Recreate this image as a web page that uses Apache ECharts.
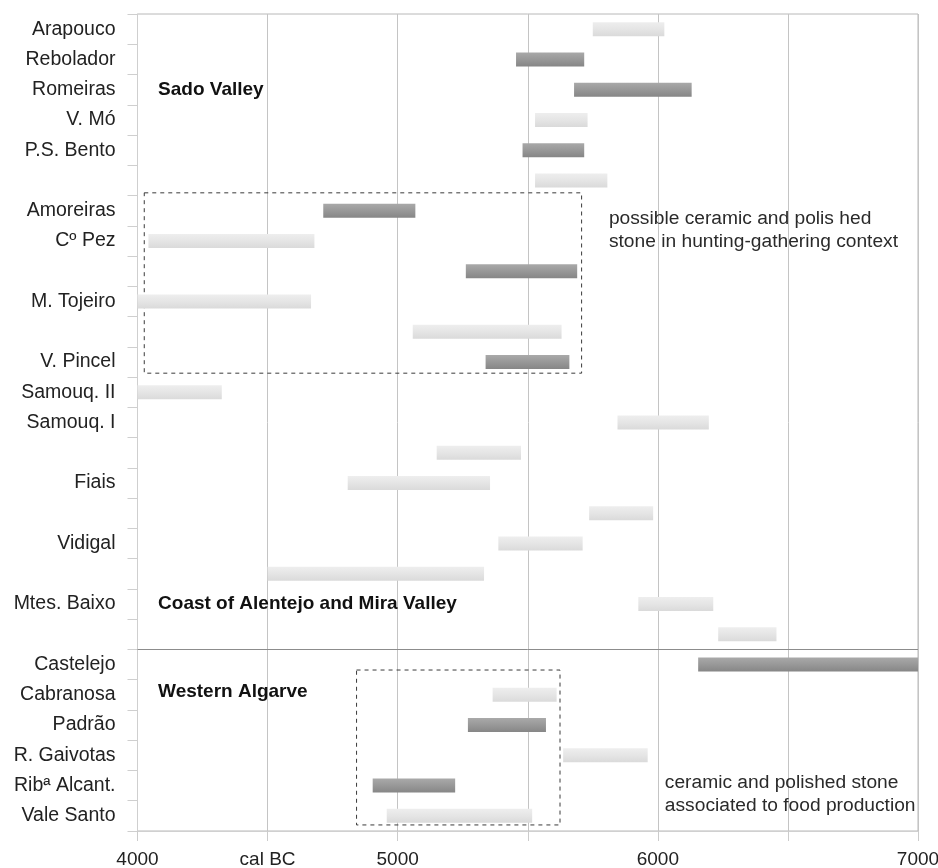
<!DOCTYPE html>
<html>
<head>
<meta charset="utf-8">
<title>Radiocarbon ranges, cal BC</title>
<script src="https://cdn.jsdelivr.net/npm/echarts@6/dist/echarts.min.js"></script>
<style>
  html, body { margin: 0; padding: 0; background: #ffffff; }
  #chart { width: 938px; height: 868px; }
</style>
</head>
<body>
<div id="chart"></div>
<script>
// Site rows, top to bottom ('' = unlabelled row)
const sites = ['Arapouco', 'Rebolador', 'Romeiras', 'V. Mó', 'P.S. Bento', '',
  'Amoreiras', 'Cº Pez', '', 'M. Tojeiro', '', 'V. Pincel', 'Samouq. II', 'Samouq. I',
  '', 'Fiais', '', 'Vidigal', '', 'Mtes. Baixo', '',
  'Castelejo', 'Cabranosa', 'Padrão', 'R. Gaivotas', 'Ribª Alcant.', 'Vale Santo'];

// Calibrated date ranges (cal BC), one per row
const rangeStart = [5750, 5455, 5678, 5528, 5480, 5528,
  4714, 4042, 5262, 4000, 5058, 5338, 4000, 5845,
  5150, 4808, 5736, 5387, 4500, 5925, 6232,
  6155, 5365, 5270, 5636, 4904, 4958];
const rangeEnd = [6025, 5717, 6130, 5730, 5717, 5806,
  5068, 4680, 5690, 4667, 5630, 5660, 4324, 6196,
  5474, 5355, 5982, 5711, 5332, 6213, 6456,
  7000, 5611, 5570, 5961, 5221, 5517];
// Sample class: 'd' = dark bar, 'l' = light bar
const tone = ['l', 'd', 'd', 'l', 'd', 'l',
  'd', 'l', 'd', 'l', 'l', 'd', 'l', 'l',
  'l', 'l', 'l', 'l', 'l', 'l', 'l',
  'd', 'l', 'd', 'l', 'd', 'l'];

// Bottom axis
const xTicks = [4000, 4500, 5000, 5500, 6000, 6500, 7000];
const xTickLabels = ['4000', 'cal BC', '5000', '', '6000', '', '7000'];

// Region headings and notes: [year, row, text, bold]
const notes = [
  [4079, 2, 'Sado Valley', true],
  [4079, 19, 'Coast of Alentejo and Mira Valley', true],
  [4079, 21.9, 'Western Algarve', true],
  [5812, 6.65, 'possible ceramic and polis hed\nstone in hunting-gathering context', false],
  [6027, 25.29, 'ceramic and polished stone\nassociated to food production', false]
];

// Dashed groupings: [fromYear, fromRow, toYear, toRow]
const groupBoxes = [
  [4026, 5.41, 5707, 11.37],
  [4842, 21.18, 5624, 26.3]
];
// Divider between the Alentejo rows and the Algarve rows
const dividerRow = 20.5;

const FONT = '"Liberation Sans", Arial, Helvetica, sans-serif';

const barData = sites.map((s, i) => [rangeStart[i], rangeEnd[i], i]);
const noteData = notes.map(n => [n[0], n[1]]);

const darkFill = new echarts.graphic.LinearGradient(0, 0, 0, 1, [
  { offset: 0, color: '#a9a9a9' },
  { offset: 0.5, color: '#989898' },
  { offset: 1, color: '#868686' }
]);
const lightFill = new echarts.graphic.LinearGradient(0, 0, 0, 1, [
  { offset: 0, color: '#eeeeee' },
  { offset: 0.5, color: '#e5e5e5' },
  { offset: 1, color: '#dadada' }
]);

function renderRange(params, api) {
  const row = api.value(2);
  const a = api.coord([api.value(0), row]);
  const b = api.coord([api.value(1), row]);
  const h = 14;
  return {
    type: 'rect',
    shape: { x: a[0], y: a[1] - h / 2, width: b[0] - a[0], height: h },
    style: { fill: tone[params.dataIndex] === 'd' ? darkFill : lightFill }
  };
}

function renderNote(params, api) {
  const n = notes[params.dataIndex];
  const p = api.coord([api.value(0), api.value(1)]);
  return {
    type: 'text',
    x: p[0],
    y: p[1],
    style: {
      text: n[2],
      fill: n[3] ? '#111111' : '#2a2a2a',
      font: (n[3] ? 'bold 19px ' : '19.2px ') + FONT,
      align: 'left',
      verticalAlign: 'middle',
      lineHeight: 23
    }
  };
}

const chart = echarts.init(document.getElementById('chart'), null, { renderer: 'canvas' });

chart.setOption({
  animation: false,
  backgroundColor: '#ffffff',
  grid: {
    left: 137.5, right: 20, top: 14, bottom: 37,
    show: true, borderColor: '#b8b8b8', borderWidth: 1,
    containLabel: false,
    outerBoundsMode: 'none'
  },
  xAxis: {
    type: 'value',
    min: 4000, max: 7000, interval: 500,
    axisLine: { show: true, onZero: false, lineStyle: { color: '#d0d0d0' } },
    axisTick: { show: true, length: 10, lineStyle: { color: '#cccccc' } },
    splitLine: { show: true, lineStyle: { color: '#c4c4c4', width: 1 } },
    axisLabel: {
      margin: 19,
      fontFamily: FONT, fontSize: 19, color: '#222222',
      formatter: v => {
        const i = xTicks.indexOf(v);
        return i >= 0 ? xTickLabels[i] : '';
      }
    }
  },
  yAxis: [
    {
      type: 'category',
      data: sites,
      inverse: true,
      axisLine: { show: true, onZero: false, lineStyle: { color: '#cfcfcf' } },
      axisTick: { show: true, length: 10, inside: false, lineStyle: { color: '#cfcfcf' } },
      splitLine: { show: false },
      axisLabel: {
        interval: 0, margin: 22,
        fontFamily: FONT, fontSize: 19.5, color: '#222222'
      }
    },
    {
      type: 'value',
      min: -0.5, max: 26.5,
      inverse: true,
      show: false
    }
  ],
  series: [
    {
      name: 'ranges',
      type: 'custom',
      xAxisIndex: 0, yAxisIndex: 0,
      renderItem: renderRange,
      encode: { x: [0, 1], y: 2 },
      data: barData,
      silent: true
    },
    {
      name: 'notes',
      type: 'custom',
      xAxisIndex: 0, yAxisIndex: 1,
      renderItem: renderNote,
      encode: { x: 0, y: 1 },
      data: noteData,
      silent: true,
      z: 5
    },
    {
      name: 'groups',
      type: 'line',
      xAxisIndex: 0, yAxisIndex: 1,
      data: [],
      silent: true,
      markArea: {
        silent: true,
        itemStyle: {
          color: 'rgba(0,0,0,0)',
          borderColor: '#3a3a3a',
          borderWidth: 1,
          borderType: [4, 4]
        },
        label: { show: false },
        data: groupBoxes.map(b => [{ coord: [b[0], b[1]] }, { coord: [b[2], b[3]] }])
      },
      markLine: {
        silent: true,
        symbol: ['none', 'none'],
        label: { show: false },
        lineStyle: { color: '#8c8c8c', type: 'solid', width: 1 },
        data: [{ yAxis: dividerRow }]
      }
    }
  ]
});
</script>
</body>
</html>
